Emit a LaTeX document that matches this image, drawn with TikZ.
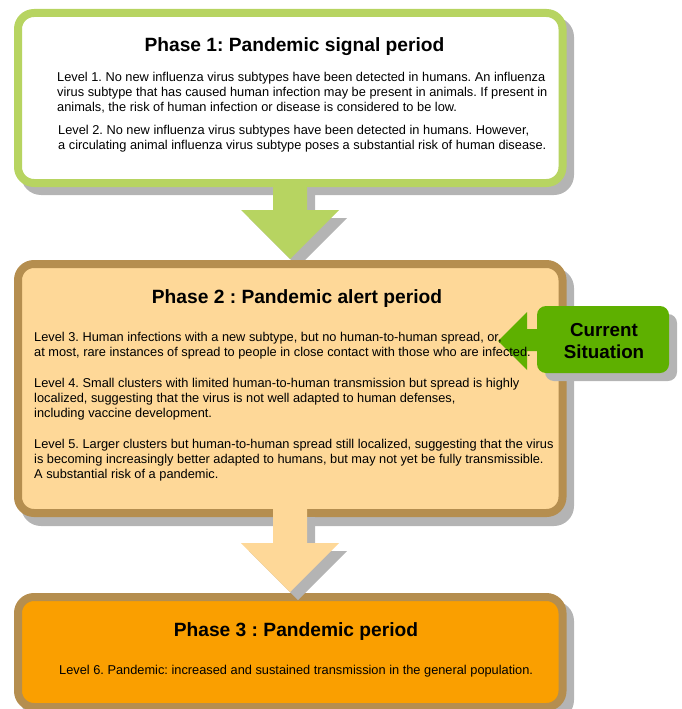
\documentclass[tikz,border=0pt]{standalone}
\usepackage{fontspec}
\setmainfont{Liberation Sans}
\frenchspacing
\definecolor{lgreen}{HTML}{B7D461}
\definecolor{brownb}{HTML}{B58E4F}
\definecolor{lorange}{HTML}{FED898}
\definecolor{dorange}{HTML}{FA9F00}
\definecolor{cgreen}{HTML}{5EB000}
\definecolor{shadowc}{HTML}{B4B4B4}
\begin{document}
\begin{tikzpicture}[x=1pt,y=-1pt,
  phasebox/.style={rectangle, rounded corners=16pt, line width=8pt, minimum width=544.5pt, inner sep=0pt},
  shade/.style={fill=shadowc},
  title/.style={font=\bfseries\fontsize{19.2}{22}\selectfont\frenchspacing, inner sep=0pt},
  body/.style={font=\fontsize{12.8}{15}\selectfont\frenchspacing, align=left, inner sep=0pt, anchor=west},
  cstext/.style={font=\bfseries\fontsize{18.8}{22.5}\selectfont, align=center, inner sep=0pt}]
\useasboundingbox (0,0) rectangle (681,709);
\clip (0,0) rectangle (681,709);

% Box 1
\fill[shade, rounded corners=20pt] (21,17) rectangle (574,195);
\node[phasebox, draw=lgreen, fill=white, minimum height=170pt] (p1) at (290.25,98) {};
% Arrow 1
\fill[shade] (281,191) -- (315,191) -- (315,218) -- (347,218) -- (298,267) -- (249,218) -- (281,218) -- cycle;
\fill[lgreen] (273,183) -- (307,183) -- (307,210) -- (339,210) -- (290,259) -- (241,210) -- (273,210) -- cycle;

% Box 2
\fill[shade, rounded corners=20pt] (21,268) rectangle (574,526);
\node[phasebox, draw=brownb, fill=lorange, minimum height=249pt] (p2) at (290.25,388.5) {};

% Box 3
\fill[shade, rounded corners=20pt] (21,601) rectangle (574,720);
\node[phasebox, draw=brownb, fill=dorange, minimum height=110pt] (p3) at (290.25,652) {};

% Arrow 2
\fill[shade] (281,517) -- (315,517) -- (315,551) -- (347,551) -- (298,600) -- (249,551) -- (281,551) -- cycle;
\fill[lorange] (273,509) -- (307,509) -- (307,543) -- (339,543) -- (290,592) -- (241,543) -- (273,543) -- cycle;

% Current situation callout
\fill[shade, rounded corners=9pt] (545,314) rectangle (677,381);
\node[rectangle, rounded corners=9pt, fill=cgreen, minimum width=132pt, minimum height=67pt, inner sep=0pt] (cs) at (603,339.5) {};
\fill[cgreen] (540,329) -- (527,329) -- (527,312) -- (498,341) -- (527,370) -- (527,351) -- (540,351) -- cycle;
\node[cstext] (cst) at (604,341) {Current\\Situation};

% Texts
\node[title] (t1) at (294.5,47) {Phase 1: Pandemic signal period};
\node[body] (l1) at (57,93) {Level 1. No new influenza virus subtypes have been detected in humans. An influenza\\virus subtype that has caused human infection may be present in animals. If present in\\animals, the risk of human infection or disease is considered to be low.};
\node[body] (l2) at (58,139) {Level 2. No new influenza virus subtypes have been detected in humans. However,\\a circulating animal influenza virus subtype poses a substantial risk of human disease.};

\node[title] (t2) at (297,299) {Phase 2 : Pandemic alert period};
\node[body] (l3) at (34,346) {Level 3. Human infections with a new subtype, but no human-to-human spread, or,\\at most, rare instances of spread to people in close contact with those who are infected.};
\node[body] (l4) at (34,399) {Level 4. Small clusters with limited human-to-human transmission but spread is highly\\localized, suggesting that the virus is not well adapted to human defenses,\\including vaccine development.};
\node[body] (l5) at (34,460) {Level 5. Larger clusters but human-to-human spread still localized, suggesting that the virus\\is becoming increasingly better adapted to humans, but may not yet be fully transmissible.\\A substantial risk of a pandemic.};

\node[title] (t3) at (296,632) {Phase 3 : Pandemic period};
\node[body] (l6) at (59,671) {Level 6. Pandemic: increased and sustained transmission in the general population.};
\end{tikzpicture}
\end{document}
